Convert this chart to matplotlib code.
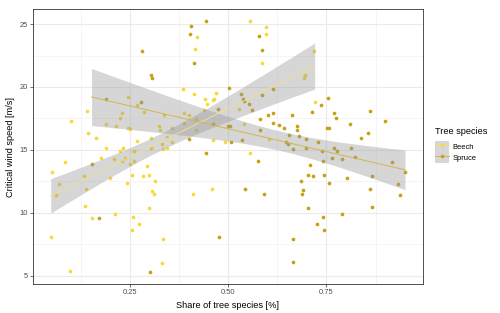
import matplotlib
matplotlib.use("Agg")
import matplotlib.pyplot as plt
from matplotlib.patches import Patch
from matplotlib.lines import Line2D
import numpy as np

# Share of tree species [%] and critical wind speed [m/s]
beech_x = [0.100, 0.140, 0.142, 0.164, 0.190, 0.188, 0.177, 0.214, 0.225, 0.230,
           0.245, 0.245, 0.251, 0.232, 0.224, 0.210, 0.230, 0.237, 0.249, 0.261,
           0.261, 0.267, 0.267, 0.286, 0.283, 0.293, 0.299, 0.303, 0.303, 0.314,
           0.307, 0.312, 0.324, 0.325, 0.332, 0.335, 0.337, 0.345, 0.357, 0.356,
           0.386, 0.388, 0.387, 0.400, 0.413, 0.416, 0.421, 0.418, 0.419, 0.441,
           0.446, 0.438, 0.460, 0.463, 0.468, 0.462, 0.493, 0.410, 0.458, 0.051,
           0.085, 0.068, 0.062, 0.134, 0.139, 0.198, 0.242, 0.254, 0.136, 0.154,
           0.211, 0.297, 0.258, 0.274, 0.256, 0.333, 0.048, 0.097, 0.332, 0.556,
           0.595, 0.596, 0.586, 0.719, 0.696, 0.694, 0.527, 0.541, 0.603, 0.720,
           0.556, 0.345]
beech_y = [17.28, 18.07, 16.35, 15.95, 17.04, 15.12, 14.39, 16.93, 17.52, 17.96,
           19.18, 16.75, 16.69, 15.13, 14.90, 14.29, 14.10, 14.36, 13.89, 14.13,
           14.90, 18.57, 15.69, 17.99, 12.94, 13.75, 12.99, 15.13, 15.93, 12.54,
           11.77, 11.48, 16.88, 16.56, 15.45, 15.04, 17.78, 16.01, 16.75, 15.66,
           19.86, 17.96, 17.12, 17.78, 19.42, 22.99, 23.99, 17.48, 16.61, 19.02,
           18.63, 18.17, 18.97, 19.05, 19.50, 15.82, 15.66, 11.48, 11.90, 13.28,
           14.02, 12.30, 11.43, 12.96, 11.93, 12.78, 12.40, 13.02, 10.53, 9.58,
           9.92, 10.42, 9.68, 9.15, 8.65, 7.91, 8.07, 5.34, 6.05, 25.21,
           24.79, 24.21, 21.88, 22.83, 20.98, 20.71, 18.23, 17.09, 15.87, 18.79,
           14.76, 15.13]

spruce_x = [0.188, 0.279, 0.281, 0.303, 0.307, 0.405, 0.403, 0.413, 0.444, 0.400,
            0.475, 0.460, 0.501, 0.499, 0.505, 0.506, 0.152, 0.170, 0.302, 0.444,
            0.477, 0.542, 0.591, 0.577, 0.533, 0.537, 0.540, 0.554, 0.561, 0.579,
            0.585, 0.587, 0.613, 0.600, 0.613, 0.580, 0.615, 0.629, 0.643, 0.675,
            0.675, 0.663, 0.714, 0.754, 0.580, 0.654, 0.680, 0.698, 0.729, 0.751,
            0.757, 0.535, 0.646, 0.652, 0.664, 0.697, 0.738, 0.770, 0.775, 0.861,
            0.900, 0.811, 0.837, 0.857, 0.768, 0.778, 0.812, 0.740, 0.763, 0.790,
            0.823, 0.916, 0.950, 0.707, 0.703, 0.716, 0.745, 0.685, 0.757, 0.802,
            0.865, 0.691, 0.688, 0.860, 0.931, 0.938, 0.704, 0.790, 0.865, 0.741,
            0.726, 0.743, 0.666, 0.666, 0.735]
spruce_y = [19.05, 18.79, 22.83, 20.98, 20.71, 24.82, 24.21, 21.88, 25.21, 15.87,
            18.23, 17.09, 19.94, 16.90, 16.90, 15.61, 13.86, 9.58, 5.32, 14.74,
            8.07, 11.93, 11.48, 14.13, 19.47, 19.02, 18.91, 18.63, 18.20, 24.02,
            22.96, 19.39, 19.84, 17.80, 17.94, 17.46, 17.12, 16.96, 16.75, 16.88,
            16.56, 17.80, 17.99, 19.15, 16.59, 16.21, 16.13, 15.87, 15.66, 16.75,
            16.75, 15.82, 15.66, 15.48, 15.05, 15.18, 14.90, 17.96, 17.52, 18.07,
            17.28, 17.04, 15.98, 16.35, 15.16, 14.88, 15.12, 14.13, 14.35, 14.29,
            14.40, 14.02, 13.28, 13.79, 12.99, 12.96, 13.04, 12.56, 12.40, 12.80,
            12.96, 11.80, 11.48, 11.93, 12.30, 11.45, 10.42, 9.92, 10.50, 9.68,
            9.15, 8.65, 7.91, 6.07, 18.57]

species = ["Beech", "Spruce"]
point_colors = ["#F7D93A", "#C4A214"]
line_colors = ["#F3DE8C", "#D3B552"]

x_ticks = [0.25, 0.50, 0.75]
x_ticklabels = ["0.25", "0.50", "0.75"]
y_ticks = [5, 10, 15, 20, 25]

plt.rcParams["font.family"] = ["Liberation Sans", "DejaVu Sans"]


def lm_band(x, y, n_out=80, t=1.99):
    # straight line fit with 95% confidence band, like geom_smooth(method = "lm")
    x = np.asarray(x)
    y = np.asarray(y)
    b, a = np.polyfit(x, y, 1)
    resid = y - (a + b * x)
    n = len(x)
    s = np.sqrt(np.sum(resid ** 2) / (n - 2))
    sxx = np.sum((x - x.mean()) ** 2)
    xs = np.linspace(x.min(), x.max(), n_out)
    fit = a + b * xs
    se = s * np.sqrt(1.0 / n + (xs - x.mean()) ** 2 / sxx)
    return xs, fit, fit - t * se, fit + t * se


dpi = 100
fig = plt.figure(figsize=(500 / dpi, 313 / dpi), dpi=dpi)
ax = fig.add_axes([0.066, 0.092, 0.7794, 0.8795])

series = [(beech_x, beech_y), (spruce_x, spruce_y)]

# points first, the grey ribbons are laid over them
for (xs, ys), col in zip(series, point_colors):
    ax.scatter(xs, ys, s=7, color=col, linewidths=0, zorder=2)

for (xs, ys), col in zip(series, line_colors):
    gx, fit, lo, hi = lm_band(xs, ys)
    ax.fill_between(gx, lo, hi, color="#999999", alpha=0.4, linewidth=0, zorder=3)
    ax.plot(gx, fit, color=col, linewidth=0.7, zorder=4)

# limits with ggplot's 5 % expansion
all_x = beech_x + spruce_x
all_y = beech_y + spruce_y
px = 0.05 * (max(all_x) - min(all_x))
py = 0.05 * (max(all_y) - min(all_y))
ax.set_xlim(min(all_x) - px, max(all_x) + px)
ax.set_ylim(min(all_y) - py, max(all_y) + py)

ax.set_xticks(x_ticks)
ax.set_xticklabels(x_ticklabels)
ax.set_yticks(y_ticks)
ax.set_xticks([0.125, 0.375, 0.625, 0.875], minor=True)
ax.set_yticks([7.5, 12.5, 17.5, 22.5], minor=True)
ax.grid(which="major", color="#EBEBEB", linewidth=0.8, zorder=0)
ax.grid(which="minor", color="#F2F2F2", linewidth=0.5, zorder=0)
ax.set_axisbelow(True)
ax.tick_params(which="major", length=2.2, width=0.5, color="#333333",
               labelsize=5.4, labelcolor="#4D4D4D", pad=1.5)
ax.tick_params(which="minor", length=0)
for sp in ax.spines.values():
    sp.set_color("#333333")
    sp.set_linewidth(0.6)

ax.set_xlabel("Share of tree species [%]", fontsize=6.6, color="black", labelpad=3)
ax.set_ylabel("Critical wind speed [m/s]", fontsize=6.6, color="black", labelpad=3)

handles = []
for pc, lc in zip(point_colors, line_colors):
    box = Patch(facecolor="#D6D6D6", edgecolor="none")
    ln = Line2D([0], [0], color=lc, linewidth=0.7, marker="o", markersize=2.6,
                markerfacecolor=pc, markeredgewidth=0)
    handles.append((box, ln))

leg = fig.legend(handles, species, title="Tree species", loc="upper left",
                 bbox_to_anchor=(0.862, 0.605), frameon=False, fontsize=5.4,
                 title_fontsize=6.6, handlelength=1.9, handleheight=1.9,
                 labelspacing=0.0, handletextpad=0.5, borderpad=0)
leg._legend_box.align = "left"
leg._legend_box.sep = 3

fig.savefig("out.png", dpi=dpi)
